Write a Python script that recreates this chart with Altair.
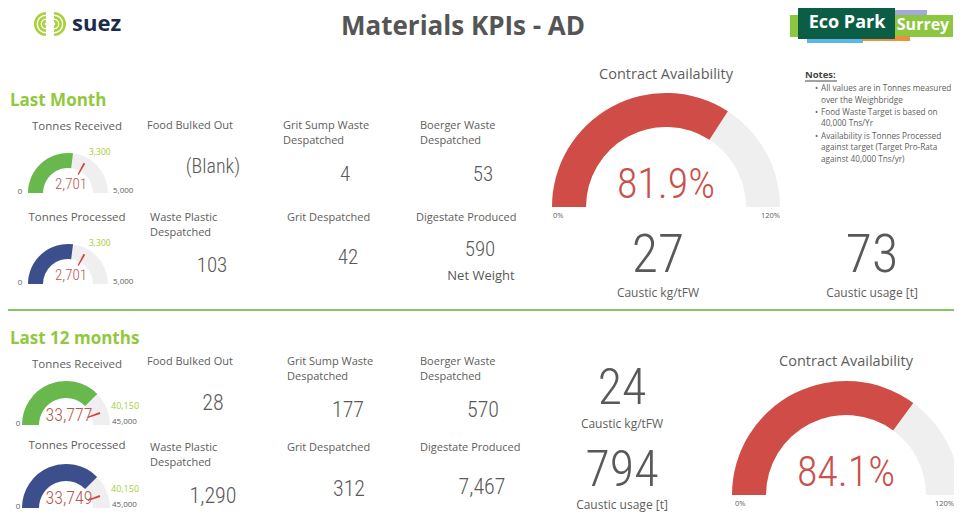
import math
import altair as alt
import pandas as pd

# ---------------- data ----------------
gauge_titles = ["Tonnes Received", "Tonnes Processed", "Tonnes Received", "Tonnes Processed"]
gauge_values = [2701, 2701, 33777, 33749]
gauge_targets = [3300, 3300, 40150, 40150]
gauge_max = [5000, 5000, 45000, 45000]
gauge_colors = ["#69B84E", "#3D4E8D", "#69B84E", "#3D4E8D"]

avail_title = "Contract Availability"
avail_values = [81.9, 84.1]   # % (Last Month, Last 12 months)
avail_max = 120

kpi_labels = [
    ["Food Bulked Out"],
    ["Grit Sump Waste", "Despatched"],
    ["Boerger Waste", "Despatched"],
    ["Waste Plastic", "Despatched"],
    ["Grit Despatched"],
    ["Digestate Produced"],
]
kpi_month_values = [None, 4, 53, 103, 42, 590]
kpi_year_values = [28, 177, 570, 1290, 312, 7467]

caustic_kg = [27, 24]        # Caustic kg/tFW
caustic_usage = [73, 794]    # Caustic usage [t]

notes = [
    "• All values are in Tonnes measured",
    "  over the Weighbridge",
    "• Food Waste Target is based on",
    "  40,000 Tns/Yr",
    "• Availability is Tonnes Processed",
    "  against target (Target Pro-Rata",
    "  against 40,000 Tns/yr)",
]

# ---------------- style ----------------
FONT = "Open Sans"
NUMFONT = "Roboto Condensed, Roboto, sans-serif"
GRAY = "#605E5C"
DARK = "#595959"
LIME = "#92C83E"
RED = "#CF4D46"
VALRED = "#B85652"
BG = "#EFEFEF"
OFF = 8  # page margin

TS = alt.Scale(domain=[0, 1], range=[-math.pi / 2, math.pi / 2])

layers = []


def P(v):
    return v - OFF


def txt(s, x, y, size=11, color=GRAY, align="center", weight="normal", font=FONT, baseline="middle"):
    return alt.Chart(pd.DataFrame({"t": [s]})).mark_text(
        align=align, baseline=baseline, fontSize=size, color=color,
        fontWeight=weight, font=font
    ).encode(text="t:N", x=alt.value(P(x)), y=alt.value(P(y)))


def num_txt(v, x, y, size, fmt=",", color=DARK, weight=300, font=NUMFONT, align="center"):
    return alt.Chart(pd.DataFrame({"v": [v]})).mark_text(
        align=align, baseline="middle", fontSize=size, color=color,
        fontWeight=weight, font=font
    ).encode(text=alt.Text("v:Q", format=fmt), x=alt.value(P(x)), y=alt.value(P(y)))


def gauge(value, target, vmax, color, cx, cy, ro, ri):
    df = pd.DataFrame({"value": [value], "target": [target], "max": [vmax]})
    base = alt.Chart(df).transform_calculate(
        zero="0", one="1",
        frac="datum.value / datum.max",
        t0="datum.target / datum.max - 0.009",
        t1="datum.target / datum.max + 0.009",
    )
    pos = dict(x=alt.value(P(cx)), y=alt.value(P(cy)))
    out = [
        base.mark_arc(radius=ro, radius2=ri, color=BG).encode(
            theta=alt.Theta("zero:Q", scale=TS, stack=None), theta2="one:Q", **pos),
        base.mark_arc(radius=ro, radius2=ri, color=color).encode(
            theta=alt.Theta("zero:Q", scale=TS, stack=None), theta2="frac:Q", **pos),
    ]
    if target is not None:
        out.append(base.mark_arc(radius=ri + 9, radius2=ri - 4, color="#D64541").encode(
            theta=alt.Theta("t0:Q", scale=TS, stack=None), theta2="t1:Q", **pos))
    return out


# ---------------- header ----------------
layers.append(txt("Materials KPIs - AD", 463, 27, size=26, color="#555555", weight="bold"))

# SUEZ logo (decorative)
for r in [12, 8, 4]:
    layers.append(alt.Chart(pd.DataFrame({"a": [0]})).mark_arc(
        radius=r, radius2=r - 2.6, theta=math.pi, theta2=2 * math.pi, color="#A9D13A"
    ).encode(x=alt.value(P(46)), y=alt.value(P(24))))
    layers.append(alt.Chart(pd.DataFrame({"a": [0]})).mark_arc(
        radius=r, radius2=r - 2.6, theta=0, theta2=math.pi, color="#A9D13A"
    ).encode(x=alt.value(P(54)), y=alt.value(P(24))))
layers.append(txt("suez", 72, 24, size=22, color="#1C2B4B", weight="bold", align="left"))

# Eco Park Surrey logo (decorative)
def rect(x1, x2, y1, y2, color):
    return alt.Chart(pd.DataFrame({"a": [0]})).mark_rect(color=color).encode(
        x=alt.value(P(x1)), x2=alt.value(P(x2)), y=alt.value(P(y1)), y2=alt.value(P(y2)))

layers += [
    rect(895, 927, 10, 16, "#A3AADB"),
    rect(790, 953, 15, 37, "#8DC63F"),
    rect(807, 863, 37, 43, "#5CB7E6"),
    rect(862, 910, 36, 41, "#E8913A"),
    rect(798, 895, 7, 39, "#0B5E45"),
]
layers.append(txt("Eco Park", 847, 23, size=18, color="white", weight="bold"))
layers.append(txt("Surrey", 923, 25, size=16, color="white", weight="bold"))

# ---------------- section headers & divider ----------------
layers.append(txt("Last Month", 10, 101, size=17, color=LIME, weight="bold", align="left"))
layers.append(txt("Last 12 months", 10, 339, size=17, color=LIME, weight="bold", align="left"))
layers.append(alt.Chart(pd.DataFrame({"a": [0]})).mark_rule(color="#86C564", strokeWidth=2).encode(
    x=alt.value(0), x2=alt.value(946), y=alt.value(P(310))))

# ---------------- small gauges ----------------
g_layout = [  # cx, cy, r_outer, r_inner, title_y, value size
    (68, 193, 40, 25, 127, 15),
    (68, 284, 40, 25, 218, 15),
    (66, 425, 44, 27, 365, 18),
    (66, 508, 44, 27, 446, 18),
]
for i, (cx, cy, ro, ri, ty, vs) in enumerate(g_layout):
    layers += gauge(gauge_values[i], gauge_targets[i], gauge_max[i], gauge_colors[i], cx, cy, ro, ri)
    layers.append(txt(gauge_titles[i], 77, ty, size=11.5))
    layers.append(num_txt(gauge_values[i], cx + 3, cy - 9, vs, color=VALRED))
    layers.append(num_txt(0, cx - 48, cy - 1, 8, fmt="d", color=GRAY, weight="normal", font=FONT))
    if i < 2:
        layers.append(num_txt(gauge_max[i], 113, cy - 2, 8, color=GRAY, weight="normal", font=FONT, align="left"))
        layers.append(num_txt(gauge_targets[i], 89, cy - 41, 8.5, color="#A6CE39", weight="normal", font=FONT, align="left"))
    else:
        layers.append(num_txt(gauge_max[i], 112, cy - 3, 8, color=GRAY, weight="normal", font=FONT, align="left"))
        layers.append(num_txt(gauge_targets[i], 111, cy - 19, 9, color="#A6CE39", weight="normal", font=FONT, align="left"))

# ---------------- KPI cards ----------------
lab_pos = [(147, 126), (283, 126), (420, 126), (150, 218), (287, 218), (416, 218)]
val_pos_m = [(213, 167), (345, 175), (483, 175), (212, 266), (348, 258), (480, 250)]
lab_pos_y = [(147, 362), (287, 362), (420, 362), (150, 448), (287, 448), (420, 448)]
val_pos_y = [(213, 403), (348, 410), (483, 410), (213, 496), (349, 489), (482, 487)]

for i, lines in enumerate(kpi_labels):
    for j, line in enumerate(lines):
        layers.append(txt(line, lab_pos[i][0], lab_pos[i][1] + 15 * j, size=11, align="left"))
        layers.append(txt(line, lab_pos_y[i][0], lab_pos_y[i][1] + 15 * j, size=11, align="left"))
    v = kpi_month_values[i]
    if v is None:
        layers.append(txt("(Blank)", val_pos_m[i][0], val_pos_m[i][1], size=20, color=DARK, font=NUMFONT, weight=300))
    else:
        layers.append(num_txt(v, val_pos_m[i][0], val_pos_m[i][1], 21))
    layers.append(num_txt(kpi_year_values[i], val_pos_y[i][0], val_pos_y[i][1], 22))

layers.append(txt("Net  Weight", 481, 276, size=13, color=DARK))

# ---------------- caustic cards ----------------
layers.append(num_txt(caustic_kg[0], 658, 256, 54))
layers.append(txt("Caustic kg/tFW", 658, 293, size=12))
layers.append(num_txt(caustic_usage[0], 872, 256, 54))
layers.append(txt("Caustic usage [t]", 872, 293, size=12))
layers.append(num_txt(caustic_kg[1], 622, 389, 50))
layers.append(txt("Caustic kg/tFW", 622, 424, size=12))
layers.append(num_txt(caustic_usage[1], 622, 471, 50))
layers.append(txt("Caustic usage [t]", 622, 505, size=12))

# ---------------- contract availability gauges ----------------
big_layout = [(666, 207, 75, 185, 553, 780, 216), (846, 495, 362, 473, 735, 954, 504)]
for i, (cx, cy, ty, vy, x0, x1, ly) in enumerate(big_layout):
    layers += gauge(avail_values[i], None, avail_max, RED, cx, cy, 114, 80)
    layers.append(txt(avail_title, cx, ty, size=14.5, color=GRAY))
    df = pd.DataFrame({"v": [avail_values[i]]})
    layers.append(alt.Chart(df).transform_calculate(lbl="format(datum.v, '.1f') + '%'").mark_text(
        align="center", baseline="middle", fontSize=42, color="#C9514C", fontWeight=300, font=NUMFONT
    ).encode(text="lbl:N", x=alt.value(P(cx)), y=alt.value(P(vy))))
    layers.append(txt("0%", x0, ly, size=7.5, align="left"))
    layers.append(txt(f"{avail_max}%", x1, ly, size=7.5, align="right"))

# ---------------- notes ----------------
layers.append(txt("Notes:", 805, 75, size=9.5, color="#444444", weight="bold", align="left"))
layers.append(alt.Chart(pd.DataFrame({"a": [0]})).mark_rule(color="#444444", strokeWidth=1).encode(
    x=alt.value(P(805)), x2=alt.value(P(837)), y=alt.value(P(81))))
note_y = [89, 101, 113, 124, 137, 148, 160]
for line, y in zip(notes, note_y):
    if line.startswith("•"):
        layers.append(txt("•", 815, y, size=8.2, align="left"))
        layers.append(txt(line[2:], 821, y, size=8.2, align="left"))
    else:
        layers.append(txt(line.strip(), 821, y, size=8.2, align="left"))

chart = alt.layer(*layers).properties(
    width=946, height=504, padding=0,
    autosize=alt.AutoSizeParams(type="none"),
    background="white",
).configure_view(stroke=None)

chart.save("out.html", embed_options={"renderer": "svg", "actions": False})
